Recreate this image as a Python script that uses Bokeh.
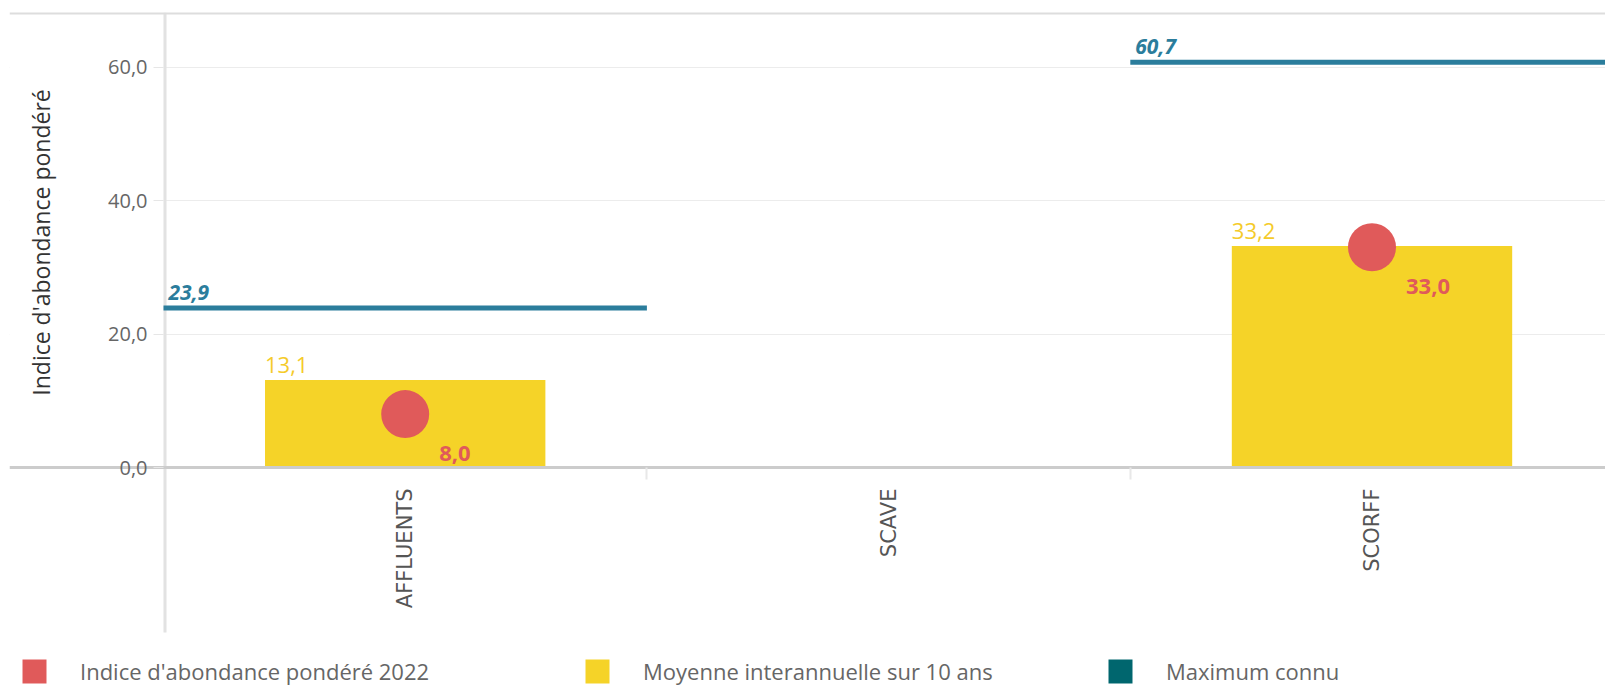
import math
from bokeh.plotting import figure
from bokeh.models import (ColumnDataSource, Range1d, FixedTicker, Legend, LegendItem,
                          Span, BoxAnnotation, Label)
from bokeh.core.properties import value
from bokeh.embed import file_html
from bokeh.resources import INLINE

# ---------------- data ----------------
categories = ["AFFLUENTS", "SCAVE", "SCORFF"]
indice_2022 = [8.0, None, 33.0]          # Indice d'abondance pondéré 2022
moyenne_10ans = [13.1, None, 33.2]        # Moyenne interannuelle sur 10 ans
maximum_connu = [23.9, None, 60.7]        # Maximum connu
y_ticks = [0, 20, 40, 60]
y_tick_labels = ["0,0", "20,0", "40,0", "60,0"]
y_title = "Indice d'abondance pondéré"
legend_labels = ["Indice d'abondance pondéré 2022",
                 "Moyenne interannuelle sur 10 ans",
                 "Maximum connu"]

# ---------------- styles / layout ----------------
RED = "#e05a5a"
YELLOW = "#f5d328"
YELLOW_TXT = "#f5cb2a"
LINE_BLUE = "#2b7d9c"
TEAL = "#00666e"
FONT = "Open Sans"
BAR_W = 0.58
PX_PER_BAND = 483.4          # horizontal pixels per category band
PX_PER_UNIT = 6.675          # vertical pixels per index unit
FRAME_LEFT, FRAME_TOP = 9, 12
AXIS_X, AXIS_Y = 163, 467    # canvas position of the axes crossing
W, H = 1605, 686

X_START = -(AXIS_X - FRAME_LEFT) / PX_PER_BAND
X_END = (W - AXIS_X) / PX_PER_BAND
Y_TOP = (AXIS_Y - FRAME_TOP) / PX_PER_UNIT
Y_BOTTOM = -(H - AXIS_Y) / PX_PER_UNIT
Y_LINE_BOTTOM = -(632 - AXIS_Y) / PX_PER_UNIT


def fmt(v):
    return f"{v:.1f}".replace(".", ",")


x_centers = [i + 0.5 for i in range(len(categories))]
rows = [i for i, v in enumerate(moyenne_10ans) if v is not None]

src = ColumnDataSource(dict(
    x=[x_centers[i] for i in rows],
    bar_left=[x_centers[i] - BAR_W / 2 for i in rows],
    x0=[float(i) for i in rows],
    x1=[float(i + 1) for i in rows],
    moy=[moyenne_10ans[i] for i in rows],
    ind=[indice_2022[i] for i in rows],
    mx=[maximum_connu[i] for i in rows],
    moy_lbl=[fmt(moyenne_10ans[i]) for i in rows],
    ind_lbl=[fmt(indice_2022[i]) for i in rows],
    mx_lbl=[fmt(maximum_connu[i]) for i in rows],
))

p = figure(width=W, height=H, output_backend="svg", toolbar_location=None,
           x_range=Range1d(X_START, X_END), y_range=Range1d(Y_BOTTOM, Y_TOP),
           min_border_left=FRAME_LEFT, min_border_right=0, min_border_top=FRAME_TOP,
           min_border_bottom=0)
p.outline_line_color = None
p.background_fill_color = "white"
p.border_fill_color = "white"

# grid
p.xgrid.visible = False
p.ygrid.ticker = FixedTicker(ticks=y_ticks[1:])
p.ygrid.grid_line_color = "#ececec"
p.ygrid.grid_line_width = 1
# keep the grid to the right of the value axis
p.add_layout(BoxAnnotation(right=0, fill_color="white", fill_alpha=1,
                           line_color=None, level="underlay"))

# top border of the chart box
p.add_layout(Span(location=Y_TOP, dimension="width", line_color="#dddddd", line_width=4))

# vertical value-axis line (extends below the category axis)
p.add_layout(BoxAnnotation(left=0, right=3 / PX_PER_BAND, bottom=Y_LINE_BOTTOM,
                           fill_color="#e2e2e2", fill_alpha=1, line_color=None,
                           level="underlay"))

# y axis, drawn at x = 0
ya = p.yaxis[0]
ya.fixed_location = 0
ya.ticker = FixedTicker(ticks=y_ticks)
ya.major_label_overrides = {t: l for t, l in zip(y_ticks, y_tick_labels)}
ya.major_tick_line_color = "#e6e6e6"
ya.major_tick_out = 10
ya.major_tick_in = 0
ya.minor_tick_line_color = None
ya.axis_line_color = None
ya.major_label_text_font = FONT
ya.major_label_text_font_size = "20px"
ya.major_label_text_color = "#666666"
ya.major_label_standoff = 6

# y axis title
p.add_layout(Label(x=40, y=242, x_units="canvas", y_units="canvas", text=y_title,
                   angle=math.pi / 2, text_align="center", text_baseline="middle",
                   text_font=FONT, text_font_size="23px", text_color="#333333"))

# x axis, drawn at y = 0
xa = p.xaxis[0]
xa.fixed_location = 0
xa.ticker = FixedTicker(ticks=x_centers, minor_ticks=[1.0, 2.0])
xa.major_label_overrides = {c: n for c, n in zip(x_centers, categories)}
xa.major_label_orientation = math.pi / 2
xa.major_tick_line_color = None
xa.minor_tick_line_color = "#e8e8e8"
xa.minor_tick_out = 12
xa.minor_tick_in = 0
xa.minor_tick_line_width = 2
xa.axis_line_color = "#cccccc"
xa.axis_line_width = 3
xa.major_label_text_font = "DejaVu Sans"
xa.major_label_text_font_size = "21px"
xa.major_label_text_color = "#555555"
xa.major_label_standoff = 9

# marks
p.vbar(x="x", width=BAR_W, top="moy", bottom=0, source=src,
       fill_color=YELLOW, line_color=None)
p.segment(x0="x0", x1="x1", y0="mx", y1="mx", source=src,
          line_color=LINE_BLUE, line_width=5)
p.scatter(x="x", y="ind", source=src, size=48, fill_color=RED, line_color=None)

p.text(x="bar_left", y="moy", text="moy_lbl", source=src, y_offset=-7,
       text_baseline="bottom", text_align="left", text_font=value(FONT),
       text_font_size="22px", text_color=YELLOW_TXT)
p.text(x="x0", y="mx", text="mx_lbl", source=src, x_offset=5, y_offset=-8,
       text_baseline="bottom", text_align="left", text_font=value(FONT),
       text_font_size="21px", text_font_style="bold italic", text_color=LINE_BLUE)
p.text(x="x", y="ind", text="ind_lbl", source=src, x_offset=34, y_offset=32,
       text_baseline="top", text_align="left", text_font=value(FONT),
       text_font_size="22px", text_font_style="bold", text_color=RED)

# ---------------- legend (square swatches) ----------------
nan = float("nan")
legend_colors = [RED, YELLOW, TEAL]
legend_x = [22, 585, 1108]
for lbl, col, lx in zip(legend_labels, legend_colors, legend_x):
    r = p.vbar(x="x", top="top", width=0.1,
               source=ColumnDataSource(dict(x=[nan], top=[nan])),
               fill_color=col, line_color=None)
    lg = Legend(items=[LegendItem(label=lbl, renderers=[r])],
                location=(lx - 3 - FRAME_LEFT, 0), orientation="horizontal",
                glyph_width=30, glyph_height=30, label_standoff=31,
                padding=0, margin=0, spacing=0,
                border_line_color=None, background_fill_alpha=0,
                label_text_font=FONT, label_text_font_size="22px",
                label_text_color="#666666", label_height=30)
    p.add_layout(lg, "center")

open("out.html", "w").write(file_html(p, INLINE))
